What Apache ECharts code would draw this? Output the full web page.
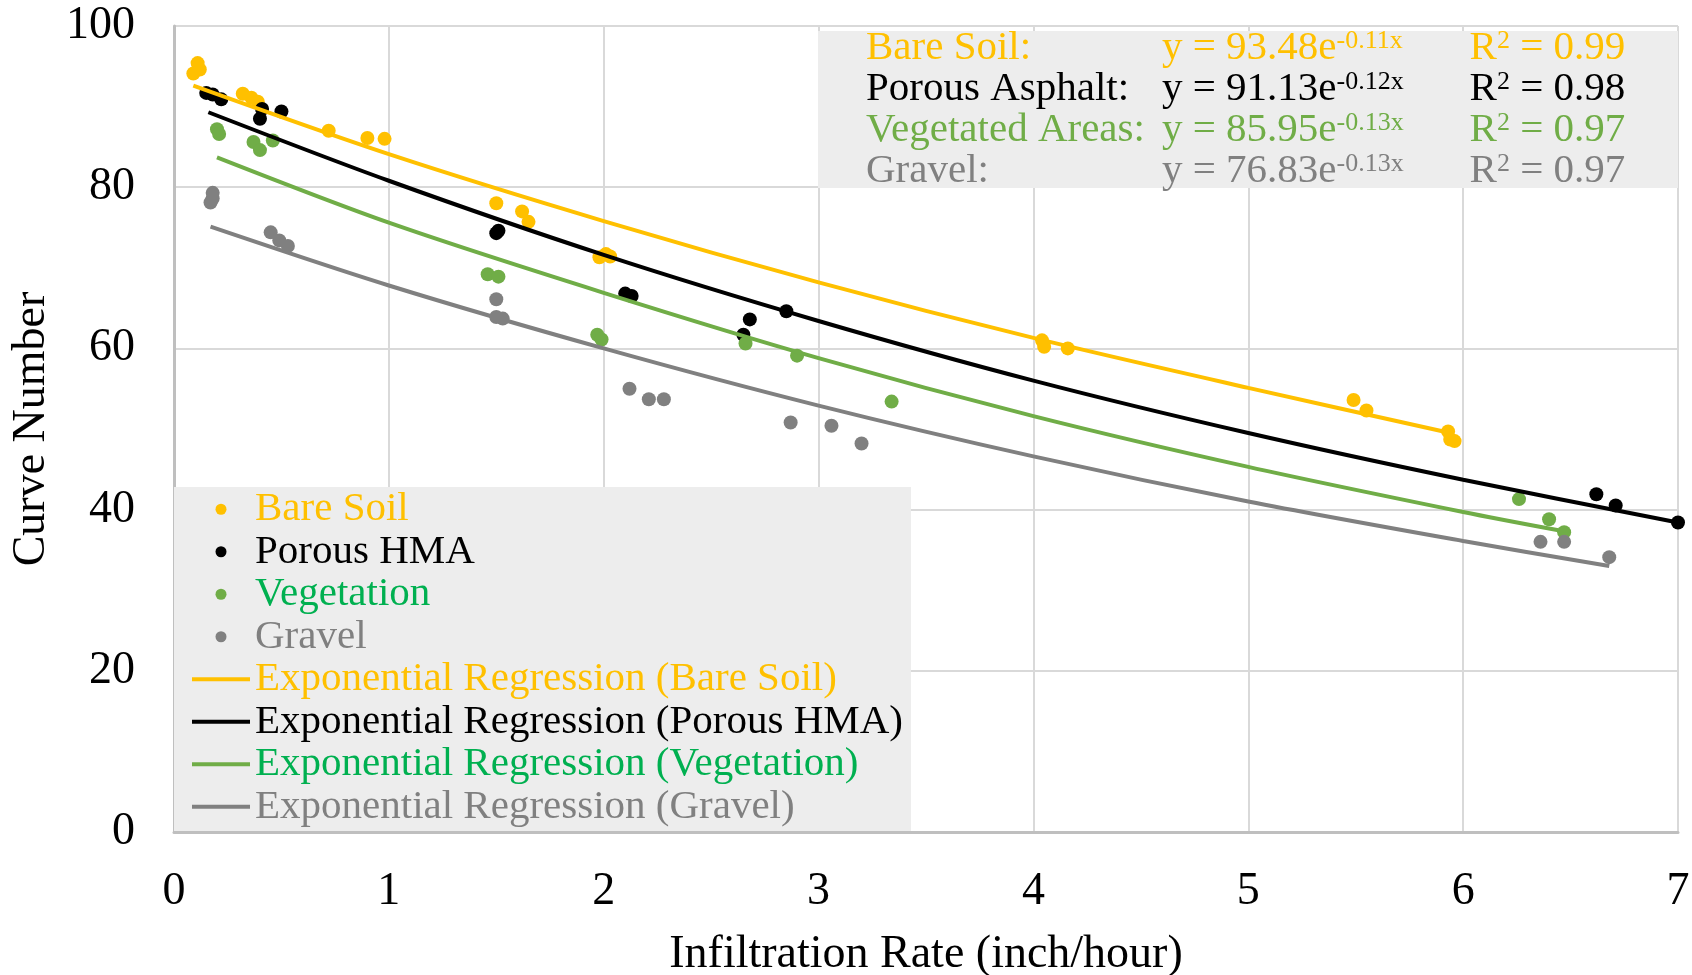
<!DOCTYPE html>
<html>
<head>
<meta charset="utf-8">
<title>Curve Number vs Infiltration Rate</title>
<script src="https://cdn.jsdelivr.net/npm/echarts@6/dist/echarts.min.js"></script>
<style>
  html, body { margin: 0; padding: 0; background: #ffffff; }
  #chart-container { width: 1692px; height: 975px; }
</style>
</head>
<body>
<div id="chart-container"></div>
<script>
// measured points [infiltration rate, curve number]
const bareSoilPoints = [
  [0.09, 94.1], [0.11, 95.4], [0.12, 94.6], [0.32, 91.6], [0.36, 91.1], [0.39, 90.6],
  [0.72, 87.0], [0.90, 86.1], [0.98, 86.0], [1.50, 78.0], [1.62, 77.0], [1.65, 75.7],
  [1.98, 71.3], [2.01, 71.7], [2.03, 71.4], [4.04, 61.0], [4.05, 60.2], [4.16, 60.0],
  [5.49, 53.6], [5.55, 52.3], [5.93, 49.7], [5.94, 48.7], [5.96, 48.5]
];
const porousPoints = [
  [0.15, 91.7], [0.18, 91.5], [0.22, 90.9], [0.40, 88.5], [0.41, 89.7], [0.50, 89.4],
  [1.50, 74.3], [1.51, 74.6], [2.10, 66.8], [2.13, 66.5], [2.65, 61.7], [2.68, 63.6],
  [2.85, 64.6], [6.62, 41.9], [6.71, 40.5], [7.00, 38.4]
];
const vegetationPoints = [
  [0.20, 87.2], [0.21, 86.6], [0.37, 85.6], [0.40, 84.6], [0.46, 85.8], [1.46, 69.2],
  [1.51, 68.9], [1.97, 61.7], [1.99, 61.1], [2.66, 60.6], [2.90, 59.1], [3.34, 53.4],
  [6.26, 41.3], [6.40, 38.8], [6.47, 37.2]
];
const gravelPoints = [
  [0.17, 78.1], [0.18, 78.6], [0.18, 79.3], [0.45, 74.4], [0.49, 73.4], [0.53, 72.7],
  [1.50, 66.1], [1.50, 63.9], [1.53, 63.7], [2.12, 55.0], [2.21, 53.7], [2.28, 53.7],
  [2.87, 50.8], [3.06, 50.4], [3.20, 48.2], [6.36, 36.0], [6.47, 36.0], [6.68, 34.1]
];

// regression curves
const bareSoilFit = [[0.09, 92.6], [1, 84.1], [2, 75.8], [3, 68.2], [4, 61.3], [5, 55.1], [5.94, 49.5]];
const porousFit = [[0.16, 89.3], [1, 80.8], [2, 71.6], [3, 63.4], [4, 56.0], [5, 49.5], [6, 43.7], [7, 38.4]];
const vegetationFit = [[0.2, 83.7], [1, 75.6], [2, 66.9], [3, 58.8], [4, 51.6], [5, 45.3], [6, 39.7], [6.45, 37.4]];
const gravelFit = [[0.17, 75.1], [1, 67.8], [2, 60.0], [3, 52.9], [4, 46.6], [5, 41.0], [6, 36.1], [6.68, 33.0]];

// equation box text
const eqLabels = ['Bare Soil:', 'Porous Asphalt:', 'Vegetated Areas:', 'Gravel:'];
const eqCoef = ['93.48', '91.13', '85.95', '76.83'];
const eqExp = ['-0.11x', '-0.12x', '-0.13x', '-0.13x'];
const eqR2 = ['0.99', '0.98', '0.97', '0.97'];

const pointNames = ['Bare Soil', 'Porous HMA', 'Vegetation', 'Gravel'];
const fitNames = [
  'Exponential Regression (Bare Soil)', 'Exponential Regression (Porous HMA)',
  'Exponential Regression (Vegetation)', 'Exponential Regression (Gravel)'
];

const seriesColors = ['#FFC000', '#000000', '#70AD47', '#808080'];
const legendTextColors = ['#FFC000', '#000000', '#00B050', '#808080'];
const FONT = "'Liberation Serif', 'Times New Roman', serif";

const chart = echarts.init(document.getElementById('chart-container'));

// rich text for the equation box
const rich = {};
const eqLines = [];
seriesColors.forEach((c, i) => {
  rich['a' + i] = { color: c, fontFamily: FONT, fontSize: 41, width: 296, lineHeight: 41 };
  rich['b' + i] = { color: c, fontFamily: FONT, fontSize: 41, lineHeight: 41 };
  rich['s' + i] = { color: c, fontFamily: FONT, fontSize: 26, width: 133, verticalAlign: 'top', lineHeight: 28 };
  rich['t' + i] = { color: c, fontFamily: FONT, fontSize: 26, verticalAlign: 'top', lineHeight: 28 };
  eqLines.push(
    `{a${i}|${eqLabels[i]}}{b${i}|y = ${eqCoef[i]}e}{s${i}|${eqExp[i]}}{b${i}|R}{t${i}|2}{b${i}| = ${eqR2[i]}}`
  );
});

const pointSeries = [bareSoilPoints, porousPoints, vegetationPoints, gravelPoints].map((d, i) => ({
  name: pointNames[i],
  type: 'scatter',
  data: d,
  symbol: 'circle',
  symbolSize: 14,
  itemStyle: { color: seriesColors[i], opacity: 1 },
  z: 2
}));

const fitSeries = [bareSoilFit, porousFit, vegetationFit, gravelFit].map((d, i) => ({
  name: fitNames[i],
  type: 'line',
  data: d,
  smooth: 0.3,
  symbol: 'none',
  lineStyle: { color: seriesColors[i], width: 4 },
  itemStyle: { color: seriesColors[i] },
  z: 3
}));

const lineIcon = 'path://M0,0L58,0L58,4L0,4Z';
const legendData = pointNames.map((n, i) => ({
  name: n,
  icon: 'circle',
  textStyle: { color: legendTextColors[i] }
})).concat(fitNames.map((n, i) => ({
  name: n,
  icon: lineIcon,
  textStyle: { color: legendTextColors[i] }
})));

const option = {
  backgroundColor: '#ffffff',
  animation: false,
  // grey box behind the equations
  graphic: [{
    type: 'rect',
    left: 818,
    top: 31,
    z: 1,
    shape: { width: 860, height: 157 },
    style: { fill: '#EDEDED' }
  }],
  title: {
    left: 818,
    top: 28,
    padding: [0, 52, 0, 48],
    text: eqLines.join('\n'),
    textStyle: { fontFamily: FONT, fontSize: 41, fontWeight: 'normal', lineHeight: 41, rich: rich }
  },
  legend: {
    orient: 'vertical',
    left: 174,
    top: 487,
    padding: [1, 8, 3, 18],
    backgroundColor: '#EDEDED',
    itemWidth: 58,
    itemHeight: 11,
    itemGap: 0,
    selectedMode: false,
    textStyle: { fontFamily: FONT, fontSize: 41, lineHeight: 42.5 },
    data: legendData
  },
  grid: { left: 174, right: 14, top: 26, bottom: 143, containLabel: false, outerBoundsMode: 'none' },
  xAxis: {
    type: 'value',
    min: 0,
    max: 7,
    interval: 1,
    name: 'Infiltration Rate (inch/hour)',
    nameLocation: 'middle',
    nameGap: 100,
    nameTextStyle: { fontFamily: FONT, fontSize: 46, color: '#000' },
    axisLine: { show: true, lineStyle: { color: '#BFBFBF', width: 3 } },
    axisTick: { show: false },
    axisLabel: { fontFamily: FONT, fontSize: 46, color: '#000', margin: 37 },
    splitLine: { show: true, lineStyle: { color: '#D9D9D9', width: 2 } }
  },
  yAxis: {
    type: 'value',
    min: 0,
    max: 100,
    interval: 20,
    name: 'Curve Number',
    nameLocation: 'middle',
    nameGap: 117,
    nameTextStyle: { fontFamily: FONT, fontSize: 46, color: '#000' },
    axisLine: { show: true, lineStyle: { color: '#BFBFBF', width: 3 } },
    axisTick: { show: false },
    axisLabel: { fontFamily: FONT, fontSize: 46, color: '#000', margin: 39 },
    splitLine: { show: true, lineStyle: { color: '#D9D9D9', width: 2 } }
  },
  series: pointSeries.concat(fitSeries)
};

chart.setOption(option);
</script>
</body>
</html>
